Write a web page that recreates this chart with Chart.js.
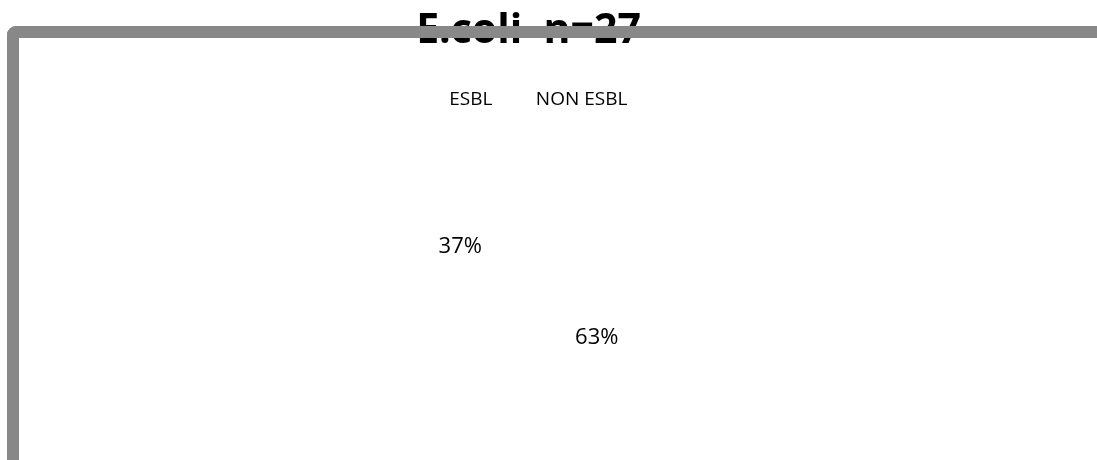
<!DOCTYPE html>
<html>
<head>
<meta charset="utf-8">
<script src="https://cdn.jsdelivr.net/npm/chart.js@4/dist/chart.umd.min.js"></script>
<style>
  html, body { margin: 0; padding: 0; background: #fff; overflow: hidden; }
  #wrap { position: relative; width: 1097px; height: 460px; }
  #frame {
    position: absolute; left: 7px; top: 26px; width: 1200px; height: 600px;
    border-top: 12px solid #888; border-left: 12px solid #888;
    border-top-left-radius: 9px; box-sizing: border-box; pointer-events: none;
  }
</style>
</head>
<body>
<div id="wrap">
  <canvas id="pieChart" width="1097" height="460"></canvas>
  <div id="frame"></div>
</div>
<script>
  const categories = ["ESBL", "NON ESBL"];
  const values = [37, 63];
  const titleText = "E.coli  n=27";

  // draw the percent labels at each slice's centre point
  const pctLabels = {
    id: "pctLabels",
    afterDatasetsDraw(chart) {
      const ctx = chart.ctx;
      const total = values.reduce((a, b) => a + b, 0);
      ctx.save();
      ctx.font = "22px 'Open Sans'";
      ctx.fillStyle = "#000";
      ctx.textAlign = "center";
      ctx.textBaseline = "middle";
      chart.getDatasetMeta(0).data.forEach((arc, i) => {
        const p = arc.tooltipPosition();
        ctx.fillText(Math.round(values[i] / total * 100) + "%", p.x, p.y);
      });
      ctx.restore();
    }
  };

  // a bit more room under the legend
  const legendGap = {
    id: "legendGap",
    beforeLayout(chart) {
      const lg = chart.legend;
      if (lg && !lg._gap) {
        const fit = lg.fit;
        lg.fit = function () { fit.call(this); this.height += 9; };
        lg._gap = true;
      }
    }
  };

  new Chart(document.getElementById("pieChart"), {
    type: "pie",
    data: {
      labels: categories,
      datasets: [{
        data: values,
        backgroundColor: ["#ffffff", "#ffffff"],
        borderWidth: 0
      }]
    },
    options: {
      responsive: false,
      animation: false,
      rotation: 237,
      layout: { padding: { right: 40, bottom: 4 } },
      plugins: {
        tooltip: { enabled: false },
        title: {
          display: true,
          text: titleText,
          color: "#000",
          font: { family: "'Open Sans'", size: 41, weight: "bold" },
          padding: { top: 7, bottom: 10 }
        },
        legend: {
          position: "top",
          labels: {
            color: "#000",
            font: { family: "'Open Sans'", size: 19 },
            boxWidth: 10,
            padding: 24
          }
        }
      }
    },
    plugins: [pctLabels, legendGap]
  });
</script>
</body>
</html>
